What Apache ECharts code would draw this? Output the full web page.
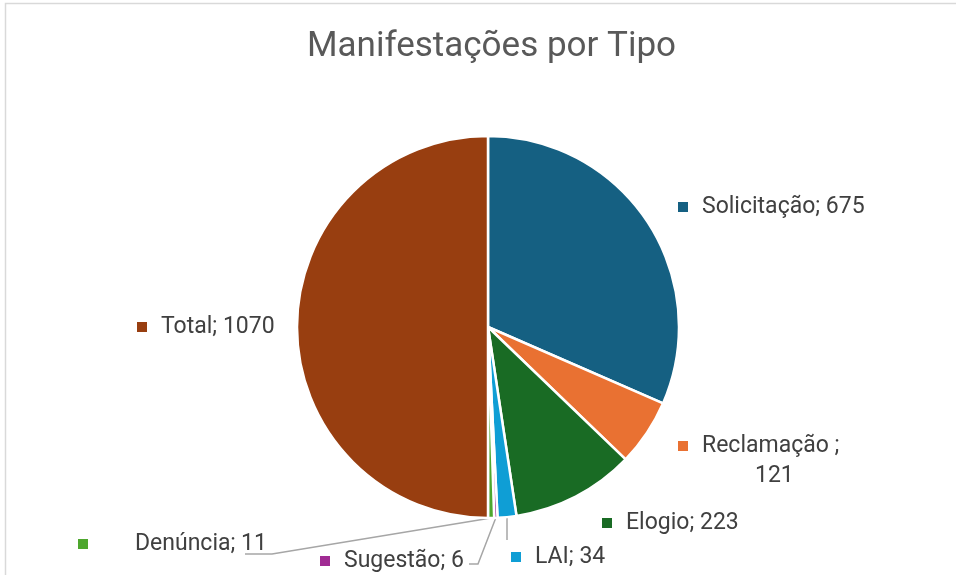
<!DOCTYPE html>
<html>
<head>
<meta charset="utf-8">
<title>Manifestações por Tipo</title>
<script src="https://cdn.jsdelivr.net/npm/echarts@6/dist/echarts.min.js"></script>
<style>
  html, body { margin: 0; padding: 0; background: #fff; }
  #chart { width: 956px; height: 575px; }
</style>
</head>
<body>
<div id="chart"></div>
<script>
// dados
var categories = ["Solicitação", "Reclamação ", "Elogio", "LAI", "Sugestão", "Denúncia", "Total"];
var values = [675, 121, 223, 34, 6, 11, 1070];
var colors = ["#156082", "#E97132", "#196B24", "#0F9ED5", "#A02B93", "#4EA72E", "#983E10"];

// posição dos rótulos (esquerda, centro vertical)
var labelPos = [[678, 207], [678, 461], [602, 523], [511, 557], [320, 561], [78, 544], [137, 327]];
// linhas guia: cotovelo e fim (null = sem linha)
var guides = [null, null, null, [[507, 540], [507, 540]], [[478, 564], [469, 564]], [[272, 554], [245, 554]], null];

var FONT = "Roboto, 'Noto Sans', sans-serif";

var chart = echarts.init(document.getElementById("chart"), null, { renderer: "canvas" });

var data = categories.map(function (name, i) {
  var textPad = i === 5 ? 47 : 14;
  return {
    name: name,
    value: values[i],
    itemStyle: { color: colors[i] },
    labelLine: { show: guides[i] !== null },
    label: {
      rich: {
        sq: { width: 10, height: 10, backgroundColor: colors[i] },
        t: { fontSize: 23, color: "#404040", fontFamily: FONT, padding: [0, 0, 0, textPad], lineHeight: 30 },
        n: { fontSize: 23, color: "#404040", fontFamily: FONT, padding: [0, 0, 0, 77], lineHeight: 30 }
      }
    }
  };
});

var option = {
  animation: false,
  title: {
    text: "Manifestações por Tipo",
    left: 302,
    top: 25,
    textStyle: { fontSize: 35, fontWeight: "normal", color: "#595959", fontFamily: FONT }
  },
  graphic: [{
    type: "rect",
    shape: { x: 5.5, y: 3.5, width: 1000, height: 700 },
    style: { fill: "none", stroke: "#d9d9d9", lineWidth: 1.5 },
    silent: true,
    z: -1
  }],
  series: [{
    type: "pie",
    center: [488, 327],
    radius: 191,
    startAngle: 90,
    clockwise: true,
    data: data,
    itemStyle: { borderColor: "#fff", borderWidth: 2.5 },
    emphasis: { disabled: true },
    label: {
      show: true,
      position: "outside",
      formatter: function (p) {
        return "{sq|}{t|" + p.name + (p.name === "Reclamação " ? ";}\n{n|" : "; ") + p.value + "}";
      }
    },
    labelLine: {
      show: true,
      length: 14,
      length2: 20,
      smooth: false,
      lineStyle: { color: "#a6a6a6", width: 1.5 }
    },
    labelLayout: function (params) {
      var i = params.dataIndex;
      var p = labelPos[i];
      var out = { x: p[0], y: p[1], align: "left", verticalAlign: "middle" };
      if (guides[i] && params.labelLinePoints) {
        out.labelLinePoints = [params.labelLinePoints[0], guides[i][0], guides[i][1]];
      }
      return out;
    }
  }]
};

chart.setOption(option);
</script>
</body>
</html>
